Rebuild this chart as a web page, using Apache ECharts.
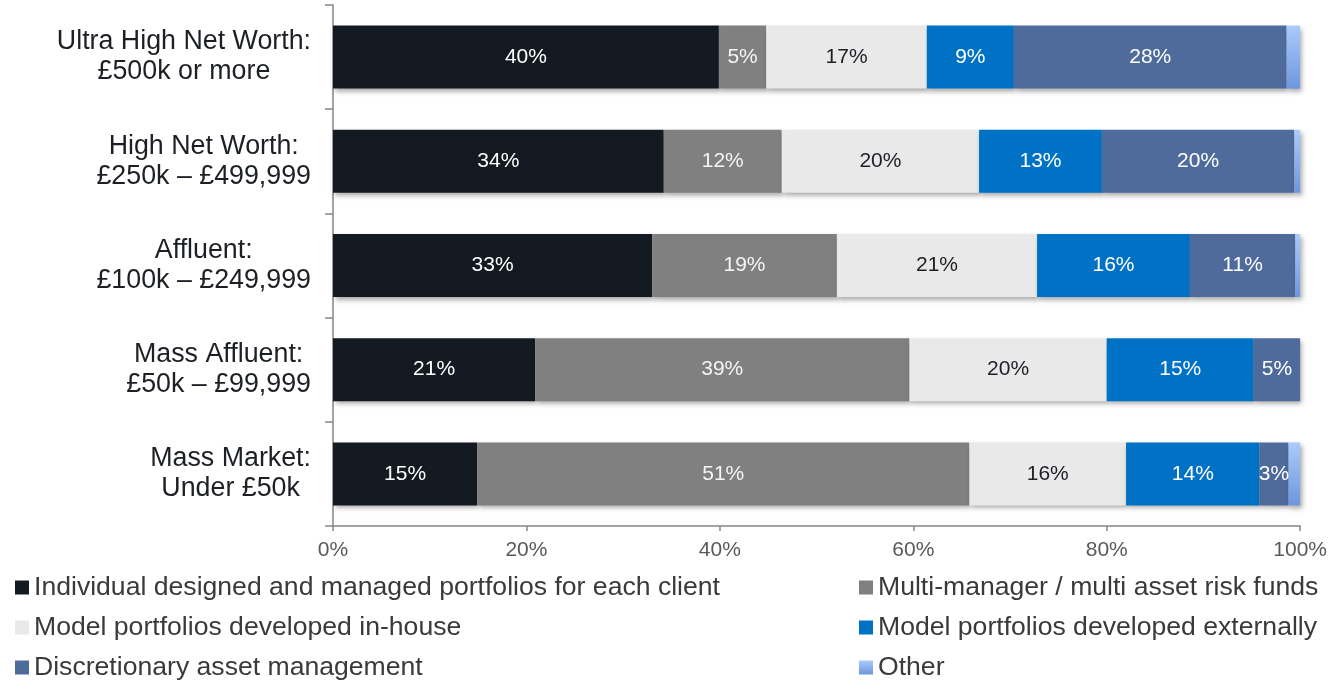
<!DOCTYPE html>
<html>
<head>
<meta charset="utf-8">
<title>Investment approach by client wealth segment</title>
<script src="https://cdn.jsdelivr.net/npm/echarts@6/dist/echarts.min.js"></script>
<style>
  html, body { margin: 0; padding: 0; background: #ffffff; }
  #chart { width: 1330px; height: 681px; }
</style>
</head>
<body>
<div id="chart"></div>
<script>
// Client wealth segments (top to bottom)
const segments = [
  'Ultra High Net Worth:\n£500k or more',
  'High Net Worth:\n£250k – £499,999',
  'Affluent:\n£100k – £249,999',
  'Mass Affluent:\n£50k – £99,999',
  'Mass Market:\nUnder £50k'
];

// Share of clients (%) per approach, one value per segment
const individualPortfolios = [39.9, 34.2, 33.0, 20.9, 14.9];
const multiManagerFunds    = [4.9, 12.2, 19.1, 38.7, 50.9];
const inHouseModels        = [16.6, 20.4, 20.7, 20.4, 16.2];
const externalModels       = [9.0, 12.7, 15.8, 15.2, 13.8];
const discretionary        = [28.2, 19.9, 10.9, 4.8, 3.0];
const other                = [1.4, 0.6, 0.5, 0.0, 1.2];

const seriesNames = [
  'Individual designed and managed portfolios for each client',
  'Multi-manager / multi asset risk funds',
  'Model portfolios developed in-house',
  'Model portfolios developed externally',
  'Discretionary asset management',
  'Other'
];

const xTicks = [0, 20, 40, 60, 80, 100];

const FONT = '"Liberation Sans", Arial, Helvetica, sans-serif';

const chart = echarts.init(document.getElementById('chart'), null, { renderer: 'canvas' });

const otherFill = new echarts.graphic.LinearGradient(0, 0, 0, 1, [
  { offset: 0, color: '#abcafc' },
  { offset: 1, color: '#6d97dc' }
]);

function barSeries(name, data, color, labelColor, showLabel) {
  return {
    name: name,
    type: 'bar',
    stack: 'share',
    data: data,
    barWidth: 63,
    itemStyle: {
      color: color,
      shadowColor: 'rgba(0,0,0,0.35)',
      shadowBlur: 5,
      shadowOffsetX: 2,
      shadowOffsetY: 3
    },
    label: {
      show: showLabel,
      position: 'inside',
      color: labelColor,
      fontFamily: FONT,
      fontSize: 21,
      formatter: function (p) { return Math.round(p.value) + '%'; }
    },
    emphasis: { disabled: true }
  };
}

const legendText = { fontFamily: FONT, fontSize: 26.6, color: '#3a3a3a', lineHeight: 24 };

// Each legend column is laid out vertically, three entries per column
function legendColumn(left, names) {
  return {
    orient: 'vertical',
    left: left,
    top: 574,
    height: 300,
    padding: 0,
    itemWidth: 14,
    itemHeight: 14,
    itemGap: 13,
    icon: 'rect',
    selectedMode: false,
    textStyle: legendText,
    data: names
  };
}

chart.setOption({
  backgroundColor: '#ffffff',
  animation: false,
  grid: { left: 333, right: 29, top: 5, bottom: 155, containLabel: false },
  legend: [
    legendColumn(15, [seriesNames[0], seriesNames[2], seriesNames[4]]),
    legendColumn(859, [seriesNames[1], seriesNames[3], seriesNames[5]])
  ],
  xAxis: {
    type: 'value',
    min: xTicks[0],
    max: xTicks[xTicks.length - 1],
    interval: xTicks[1] - xTicks[0],
    axisLine: { show: true, lineStyle: { color: '#868686', width: 1.5 } },
    axisTick: { show: true, length: 5, lineStyle: { color: '#868686', width: 1.5 } },
    splitLine: { show: false },
    axisLabel: {
      fontFamily: FONT,
      fontSize: 21,
      color: '#595959',
      margin: 14,
      formatter: '{value}%'
    }
  },
  yAxis: {
    type: 'category',
    data: segments,
    inverse: true,
    axisLine: { show: true, lineStyle: { color: '#868686', width: 1.5 } },
    axisTick: { show: true, length: 8, lineStyle: { color: '#868686', width: 1.5 } },
    splitLine: { show: false },
    axisLabel: {
      margin: 22,
      align: 'right',
      formatter: function (v) {
        return v.split('\n').map(function (line) { return '{c|' + line + '}'; }).join('\n');
      },
      rich: {
        c: { align: 'center', fontFamily: FONT, fontSize: 26.8, lineHeight: 30, color: '#1c1f24' }
      }
    }
  },
  series: [
    barSeries(seriesNames[0], individualPortfolios, '#131a22', '#ffffff', true),
    barSeries(seriesNames[1], multiManagerFunds, '#808080', '#f4f4f4', true),
    barSeries(seriesNames[2], inHouseModels, '#e9e9e9', '#1c1f24', true),
    barSeries(seriesNames[3], externalModels, '#0072c6', '#ffffff', true),
    barSeries(seriesNames[4], discretionary, '#4e6b9c', '#ffffff', true),
    barSeries(seriesNames[5], other, otherFill, '#ffffff', false)
  ]
});
</script>
</body>
</html>
